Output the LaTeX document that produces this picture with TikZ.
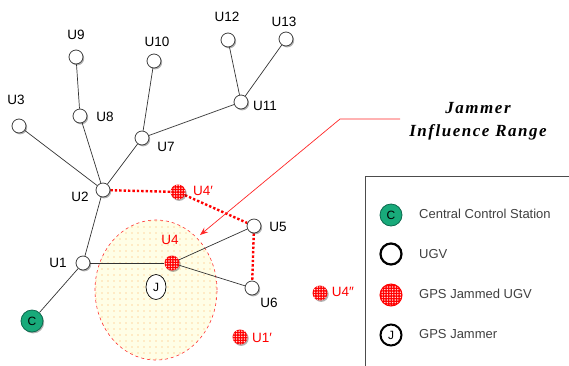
\documentclass[tikz,border=0pt]{standalone}
\usepackage{fontspec}
\setmainfont{Liberation Sans}
\newfontfamily\jamfont[LetterSpace=9]{Liberation Serif}
\usetikzlibrary{patterns.meta,shadows,arrows.meta,shapes.geometric}
\pgfdeclarelayer{edges}
\pgfdeclarelayer{back}
\pgfsetlayers{back,edges,main}
\definecolor{ccs}{RGB}{24,170,122}
\definecolor{ccsd}{RGB}{12,105,78}
\begin{document}
\begin{tikzpicture}[x=1pt,y=-1pt,
  shd/.style={drop shadow={shadow xshift=1.2pt,shadow yshift=-1.4pt,opacity=0.3,fill=black}},
  ugv/.style={circle,draw=black!75,fill=white,line width=0.8pt,minimum size=14pt,inner sep=0pt,shd},
  jampat/.style={preaction={fill=red},pattern={Dots[distance=2.6pt,radius=0.8pt]},pattern color=white!90!red},
  jam/.style={circle,minimum size=15pt,inner sep=0pt,shd,jampat},
  lab/.style={font=\fontsize{13.5}{15}\selectfont,inner sep=0pt},
  rlab/.style={lab,text=red},
  edge/.style={draw=black!80,line width=0.7pt},
  jline/.style={draw=red,line width=2.4pt,dash pattern=on 2.4pt off 2pt},
  legtxt/.style={font=\fontsize{13}{15}\selectfont,text=black!75,inner sep=0pt,anchor=west}]
\useasboundingbox (0,0) rectangle (569,365);

% jammer influence range
\begin{pgfonlayer}{back}
\node[ellipse,minimum width=122pt,minimum height=140pt,inner sep=0pt,draw=red!80,dashed,line width=0.6pt,
  preaction={fill=yellow!10},pattern={Dots[distance=6pt,radius=0.65pt]},pattern color=orange!65] (range) at (156,290) {};
\end{pgfonlayer}

% UGV nodes
\node[ugv] (U9) at (76,57) {};
\node[ugv] (U8) at (80,116) {};
\node[ugv] (U3) at (19,126) {};
\node[ugv] (U10) at (154,61) {};
\node[ugv] (U12) at (228,40) {};
\node[ugv] (U13) at (286,39) {};
\node[ugv] (U11) at (241,102) {};
\node[ugv] (U7) at (142,138) {};
\node[ugv] (U2) at (103,190) {};
\node[ugv] (U5) at (254,226) {};
\node[ugv] (U1) at (83,263) {};
\node[ugv] (U6) at (252,288) {};
\node[jam] (U4p) at (178,192) {};
\node[jam] (U4) at (172,263) {};
\node[jam] (U1p) at (240,337) {};
\node[jam] (U4pp) at (320,293) {};
\node[circle,minimum size=22pt,inner sep=0pt,fill=ccs,draw=ccsd,line width=0.8pt,shd,
  font=\fontsize{12}{14}\selectfont] (C) at (32,321) {C};
\node[ellipse,minimum width=20pt,minimum height=25pt,inner sep=0pt,draw=black,line width=0.7pt,fill=white,
  font=\fontsize{12}{14}\selectfont] (J) at (156,287) {J};

% labels
\node[lab] (lU9) at (76,35) {U9};
\node[lab] (lU8) at (105,117) {U8};
\node[lab] (lU3) at (16,100) {U3};
\node[lab] (lU10) at (157,42) {U10};
\node[lab] (lU12) at (227,17) {U12};
\node[lab] (lU13) at (284,22) {U13};
\node[lab] (lU11) at (265,106) {U11};
\node[lab] (lU7) at (166,147) {U7};
\node[lab] (lU2) at (80,197) {U2};
\node[lab] (lU5) at (278,227) {U5};
\node[lab] (lU1) at (58,263) {U1};
\node[lab] (lU6) at (269,303) {U6};
\node[rlab] (lU4p) at (203,191) {U4′};
\node[rlab] (lU4) at (170,240) {U4};
\node[rlab] (lU1p) at (262,338) {U1′};
\node[rlab] (lU4pp) at (343,292) {U4″};

% edges
\begin{pgfonlayer}{edges}
\draw[edge] (U9) -- (U8) -- (U2);
\draw[edge] (U3) -- (U2);
\draw[edge] (U10) -- (U7) -- (U2);
\draw[edge] (U7) -- (U11);
\draw[edge] (U12) -- (U11) -- (U13);
\draw[edge] (U2) -- (U1) -- (C);
\draw[edge] (U1) -- (U4);
\draw[edge] (U5) -- (U4) -- (U6);
\draw[jline] (U2) -- (U4p) -- (U5) -- (U6);
\end{pgfonlayer}

% jammer callout
\node[font=\jamfont\bfseries\itshape\fontsize{17}{23}\selectfont,align=center,inner sep=0pt] (jt) at (478,121) {Jammer\\Influence Range};
\coordinate (a1) at (400,119);
\coordinate (a2) at (340,119);
\coordinate (a3) at (200,235);
\draw[red!85,line width=0.7pt,-{Stealth[length=8pt,width=6pt]}] (a1) -- (a2) -- (a3);

% legend
\coordinate (b1) at (365,366);
\coordinate (b2) at (365,176);
\coordinate (b3) at (570,176);
\draw[black!70,line width=1pt] (b1) -- (b2) -- (b3);
\node[circle,minimum size=22pt,inner sep=0pt,fill=ccs,draw=ccsd,line width=0.8pt,
  font=\fontsize{12}{14}\selectfont] (legC) at (391,215) {C};
\node[legtxt] (legCt) at (419,214) {Central Control Station};
\node[circle,minimum size=21pt,inner sep=0pt,draw=black,line width=2.2pt] (legU) at (391,254) {};
\node[legtxt] (legUt) at (419,254) {UGV};
\node[circle,minimum size=22pt,inner sep=0pt,draw=red,line width=1pt,jampat] (legJ) at (391,295) {};
\node[legtxt] (legJt) at (419,294) {GPS Jammed UGV};
\node[circle,minimum size=21pt,inner sep=0pt,draw=black,line width=2pt,
  font=\fontsize{12}{14}\selectfont] (legG) at (391,335) {J};
\node[legtxt] (legGt) at (419,334) {GPS Jammer};
\end{tikzpicture}
\end{document}
